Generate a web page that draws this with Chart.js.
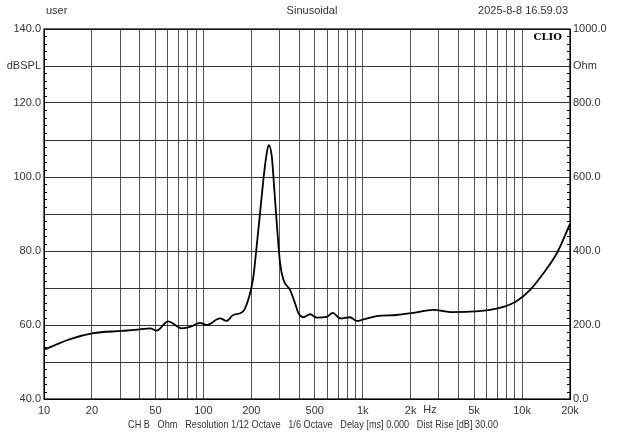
<!DOCTYPE html>
<html>
<head>
<meta charset="utf-8">
<script src="https://cdn.jsdelivr.net/npm/chart.js@4.4.0/dist/chart.umd.min.js"></script>
<style>
  html, body { margin: 0; padding: 0; background: #fff; }
  #wrap { width: 620px; height: 439px; }
</style>
</head>
<body>
<div id="wrap"><canvas id="chart" width="620" height="439"></canvas></div>
<script>
// Impedance curve (Ohm, right axis)
const freqs = [10.1, 14.6, 20.4, 30.7, 40, 46.3, 51, 60, 73, 85, 95, 105, 127, 140, 154, 177,
  196, 206, 216, 227, 238, 248, 257, 269, 279, 291, 303, 318, 350, 376, 395, 424, 468, 515,
  595, 649, 721, 834, 918, 1010, 1226, 1638, 2082, 2779, 3538, 4724, 6306, 7643, 9277,
  11240, 13620, 16540, 20000];
const ohms = [134, 162, 178, 184, 188, 191, 185, 210, 191, 197, 206, 200, 218, 211, 227, 236,
  284, 330, 412, 503, 592, 655, 686, 655, 565, 457, 368, 322, 295, 259, 232, 221, 229, 220,
  222, 233, 218, 221, 211, 215, 224, 227, 233, 241, 235, 236, 241, 249, 265,
  295, 340, 394, 473];

// Axis ticks
const xGrid = [10, 20, 30, 40, 50, 60, 70, 80, 90, 100, 200, 300, 400, 500, 600, 700, 800, 900,
  1000, 2000, 3000, 4000, 5000, 6000, 7000, 8000, 9000, 10000, 20000];
const xLabels = { 10: '10', 20: '20', 50: '50', 100: '100', 200: '200', 500: '500',
  1000: '1k', 2000: '2k', 5000: '5k', 10000: '10k', 20000: '20k' };
const dbLabels = { 140: '140.0', 130: 'dBSPL', 120: '120.0', 100: '100.0', 80: '80.0', 60: '60.0', 40: '40.0' };
const ohmLabels = { 1000: '1000.0', 900: 'Ohm', 800: '800.0', 600: '600.0', 400: '400.0', 200: '200.0', 0: '0.0' };

const FONT = '"Liberation Sans", Arial, sans-serif';
const TXT = '#333';

// Titles, footer, frame and small ticks
const decor = {
  id: 'decor',
  afterDraw(chart) {
    const ctx = chart.ctx;
    const a = chart.chartArea;
    const yL = chart.scales.y;
    ctx.save();
    ctx.fillStyle = TXT;
    ctx.font = '11px ' + FONT;
    ctx.textBaseline = 'middle';
    ctx.textAlign = 'left';
    ctx.fillText('user', 46, 11);
    ctx.textAlign = 'center';
    ctx.fillText('Sinusoidal', 312, 11);
    ctx.textAlign = 'right';
    ctx.fillText('2025-8-8 16.59.03', 568, 11);
    ctx.textAlign = 'center';
    ctx.fillText('Hz', 430, 410);
    ctx.font = '10.5px ' + FONT;
    ctx.fillText('CH B   Ohm   Resolution 1/12 Octave   1/6 Octave   Delay [ms] 0.000   Dist Rise [dB] 30.00', 313, 425, 370);

    ctx.fillStyle = '#000';
    ctx.font = 'bold 10px "DejaVu Serif", serif';
    ctx.textAlign = 'right';
    ctx.fillText('CLIO', a.right - 8, a.top + 8);

    // minor ticks every 2 dB, inside the frame
    ctx.strokeStyle = '#000';
    ctx.lineWidth = 1;
    ctx.beginPath();
    for (let v = 40; v <= 140; v += 2) {
      if (v % 10 === 0) continue;
      const py = Math.round(yL.getPixelForValue(v)) + 0.5;
      ctx.moveTo(a.left, py); ctx.lineTo(a.left + 3, py);
      ctx.moveTo(a.right, py); ctx.lineTo(a.right - 3, py);
    }
    ctx.stroke();

    ctx.lineWidth = 1.2;
    ctx.strokeRect(a.left, a.top, a.right - a.left, a.bottom - a.top);
    ctx.restore();
  }
};

const ctx = document.getElementById('chart').getContext('2d');
new Chart(ctx, {
  type: 'line',
  data: {
    datasets: [{
      data: freqs.map((f, i) => ({ x: f, y: ohms[i] })),
      yAxisID: 'yR',
      borderColor: '#000',
      borderWidth: 1.8,
      pointRadius: 0,
      cubicInterpolationMode: 'monotone',
      fill: false
    }]
  },
  options: {
    responsive: false,
    animation: false,
    devicePixelRatio: 1,
    layout: { padding: { top: 29, left: 0, right: 0, bottom: 0 } },
    plugins: { legend: { display: false }, tooltip: { enabled: false } },
    scales: {
      x: {
        type: 'logarithmic',
        min: 10,
        max: 20000,
        afterBuildTicks: s => { s.ticks = xGrid.map(v => ({ value: v })); },
        afterFit: s => { s.height = 40; },
        grid: { color: '#555', lineWidth: 1, drawTicks: false },
        border: { color: '#000' },
        ticks: {
          autoSkip: false, maxRotation: 0, padding: 5,
          color: TXT, font: { family: FONT, size: 11 },
          callback: v => xLabels[v] || ''
        }
      },
      y: {
        position: 'left',
        min: 40,
        max: 140,
        afterFit: s => { s.width = 44; },
        grid: { color: '#333', lineWidth: 1, drawTicks: false },
        border: { color: '#000' },
        ticks: {
          stepSize: 10, padding: 3,
          color: TXT, font: { family: FONT, size: 11 },
          callback: v => dbLabels[v] || ''
        }
      },
      yR: {
        position: 'right',
        min: 0,
        max: 1000,
        afterFit: s => { s.width = 50; },
        grid: { display: false, drawTicks: false },
        border: { color: '#000' },
        ticks: {
          stepSize: 100, padding: 3,
          color: TXT, font: { family: FONT, size: 11 },
          callback: v => ohmLabels[v] || ''
        }
      }
    }
  },
  plugins: [decor]
});
</script>
</body>
</html>
